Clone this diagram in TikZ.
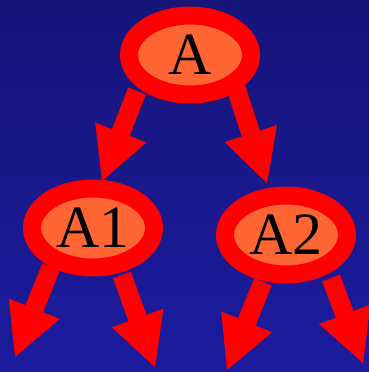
\documentclass[tikz,border=0pt]{standalone}
\usepackage{fontspec}
\setmainfont{Liberation Serif}
\usetikzlibrary{arrows.meta,calc,shapes.geometric,backgrounds}
\definecolor{bgtop}{HTML}{16157A}
\definecolor{bgbot}{HTML}{1C1B9E}
\definecolor{ringred}{HTML}{FF0000}
\definecolor{core}{HTML}{FF6633}
\begin{document}
\begin{tikzpicture}[x=1pt,y=1pt,
  treenode/.style={ellipse, draw=ringred, line width=18pt, fill=core,
    minimum width=122pt, minimum height=79pt, inner sep=0pt,
    font=\fontsize{60}{62}\selectfont},
  bigarrow/.style={draw=ringred, line width=19pt,
    -{Triangle[width=55pt,length=52pt,line width=0pt]}}]
\useasboundingbox (0,0) rectangle (369,372);
\node[treenode] (A)  at (190,317) {A};
\node[treenode] (A1) at (93,144)  {A1};
\node[treenode] (A2) at (286,137) {A2};
\coordinate (A1l) at (15,15);
\coordinate (A1r) at (155,5);
\coordinate (A2l) at (227,2);
\coordinate (A2r) at (363,9);
\begin{pgfonlayer}{background}
\shade[top color=bgtop, bottom color=bgbot] (0,0) rectangle (369,372);
\draw[bigarrow] ($(A)+(-53,-36)$) -- ($(A1)+(9,47)$);
\draw[bigarrow] ($(A)+(46,-33)$) -- ($(A2)+(-19,52)$);
\draw[bigarrow] ($(A1)+(-42,-39)$) -- (A1l);
\draw[bigarrow] ($(A1)+(29,-47)$) -- (A1r);
\draw[bigarrow] ($(A2)+(-23,-47)$) -- (A2l);
\draw[bigarrow] ($(A2)+(45,-43)$) -- (A2r);
\end{pgfonlayer}
\end{tikzpicture}
\end{document}
